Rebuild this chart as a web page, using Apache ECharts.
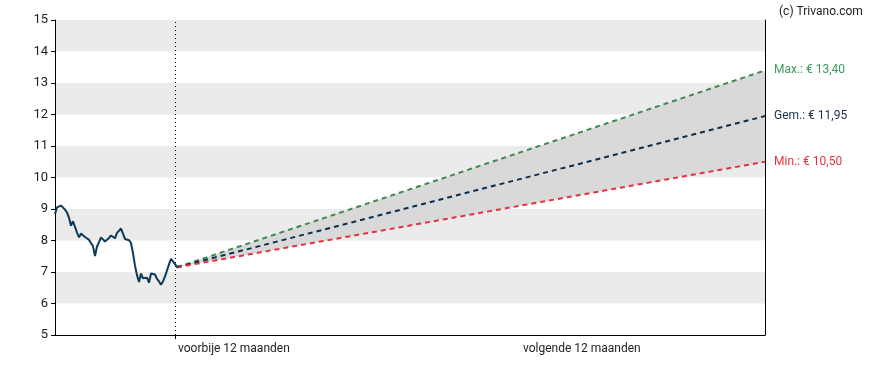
<!DOCTYPE html>
<html>
<head>
<meta charset="utf-8">
<script src="https://cdn.jsdelivr.net/npm/echarts@6/dist/echarts.min.js"></script>
<style>html,body{margin:0;padding:0;background:#fff}#c{width:888px;height:370px}</style>
</head>
<body>
<div id="c"></div>
<script>
// Past 12 months closing prices (sample steps)
const pastValues = [8.84,9.05,9.11,9.11,9.05,8.98,8.89,8.72,8.47,8.61,8.55,8.25,8.10,8.22,8.18,8.11,8.05,8.02,7.98,7.82,7.51,7.81,7.95,8.10,8.08,7.97,8.00,8.08,8.16,8.15,8.07,8.24,8.30,8.38,8.44,8.05,8.05,8.01,7.92,7.60,7.20,6.90,6.68,6.95,6.80,6.80,6.82,6.66,6.95,7.00,6.92,6.78,6.70,6.60,6.70,6.86,7.05,7.24,7.42,7.48,7.25,7.15,7.19];
// Forecast: start point and targets
const forecastStartIndex = 61;
const forecastEndIndex = 355;
const forecastStart = 7.15;
const targetMax = 13.40;
const targetAvg = 11.95;
const targetMin = 10.50;
const nowIndex = 60;
const yTicks = [5,6,7,8,9,10,11,12,13,14,15];
const xLabels = ['voorbije 12 maanden', 'volgende 12 maanden'];
const xLabelIndex = [61.5, 234];

const fmt = v => v.toFixed(2).replace('.', ',');
const pastData = pastValues.map((v, i) => [i, v]);
const line = (end) => [[forecastStartIndex, forecastStart], [forecastEndIndex, end]];

const chart = echarts.init(document.getElementById('c'), null, {renderer: 'canvas'});
const font = 'Roboto, "DejaVu Sans", sans-serif';
chart.setOption({
  animation: false,
  textStyle: {fontFamily: font},
  title: {text: '(c) Trivano.com', left: 774, top: 1, textStyle: {fontSize: 12, fontWeight: 'normal', color: '#222', fontFamily: font}},
  grid: {left: 55, right: 123, top: 20, bottom: 35},
  xAxis: {
    type: 'value', min: 0, max: forecastEndIndex,
    splitLine: {show: false},
    axisLine: {show: true, onZero: false, lineStyle: {color: '#000', width: 1}},
    axisTick: {show: true, customValues: [nowIndex], length: 4, lineStyle: {color: '#000'}},
    axisLabel: {
      customValues: xLabelIndex, align: 'left', margin: 8,
      fontSize: 12, color: '#222', fontFamily: font,
      formatter: (v) => xLabels[xLabelIndex.indexOf(v)] || ''
    }
  },
  yAxis: [{
    type: 'value', min: yTicks[0], max: yTicks[yTicks.length - 1], interval: 1,
    axisLine: {show: true, lineStyle: {color: '#000', width: 1}},
    axisTick: {show: true, length: 4, lineStyle: {color: '#000'}},
    axisLabel: {fontSize: 13, color: '#222', margin: 7, fontFamily: font},
    splitLine: {show: false},
    splitArea: {show: true, areaStyle: {color: ['rgba(255,255,255,0)', '#ebebeb']}}
  }, {
    type: 'value', min: yTicks[0], max: yTicks[yTicks.length - 1], position: 'right',
    axisLine: {show: true, lineStyle: {color: '#000', width: 1}},
    axisTick: {show: false}, axisLabel: {show: false}, splitLine: {show: false}
  }],
  series: [
    {type: 'custom', silent: true, z: 1,
      data: [[forecastStartIndex, forecastStart, forecastEndIndex, targetMin, targetMax]],
      renderItem: (params, api) => {
        const p0 = api.coord([api.value(0), api.value(1)]);
        const pMax = api.coord([api.value(2), api.value(4)]);
        const pMin = api.coord([api.value(2), api.value(3)]);
        return {type: 'polygon', shape: {points: [p0, pMax, pMin]}, style: {fill: '#d9d9d9'}};
      }
    },
    {type: 'line', data: pastData, symbol: 'none', lineStyle: {color: '#0d3b5c', width: 2}, z: 5,
      markLine: {silent: true, symbol: 'none', label: {show: false}, lineStyle: {color: '#000', type: [1, 3], width: 1}, data: [{xAxis: nowIndex}]}},
    {type: 'line', data: line(targetMax), symbol: 'none', lineStyle: {color: '#3d8a52', width: 2, type: [5, 4]}, z: 4,
      endLabel: {show: true, formatter: () => 'Max.: € ' + fmt(targetMax), color: '#3d9a5c', fontSize: 12, distance: 9, fontFamily: font}},
    {type: 'line', data: line(targetAvg), symbol: 'none', lineStyle: {color: '#0d2f4f', width: 2, type: [5, 4]}, z: 4,
      endLabel: {show: true, formatter: () => 'Gem.: € ' + fmt(targetAvg), color: '#1b2f45', fontSize: 12, distance: 9, fontFamily: font}},
    {type: 'line', data: line(targetMin), symbol: 'none', lineStyle: {color: '#e5323e', width: 2, type: [5, 4]}, z: 4,
      endLabel: {show: true, formatter: () => 'Min.: € ' + fmt(targetMin), color: '#e5323e', fontSize: 12, distance: 9, fontFamily: font}}
  ]
});
</script>
</body>
</html>
